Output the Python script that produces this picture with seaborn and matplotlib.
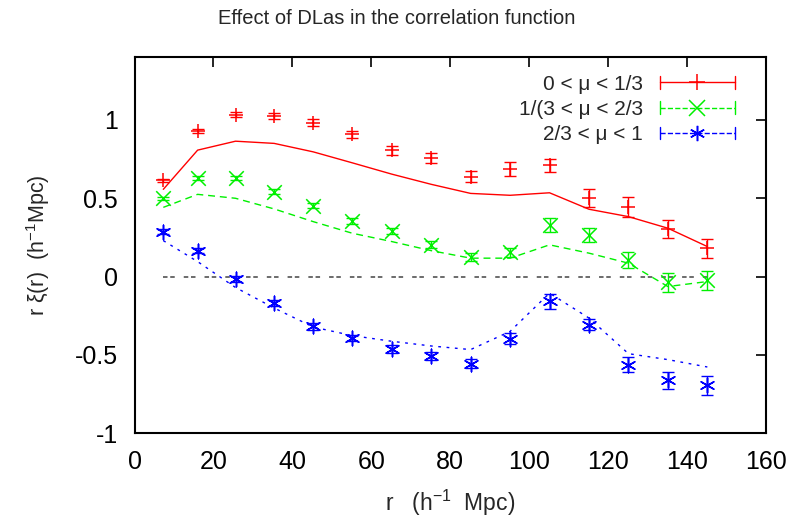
import matplotlib
matplotlib.use("Agg")
import matplotlib.pyplot as plt
from matplotlib.lines import Line2D
from matplotlib.legend_handler import HandlerBase
import seaborn as sns
import pandas as pd

# ---- data ----
r = [7.3, 16.0, 25.6, 35.4, 45.3, 55.2, 65.2, 75.2, 85.2, 95.2, 105.2, 115.2, 125.2, 135.2, 145.2]

red_data = [0.615, 0.929, 1.033, 1.024, 0.982, 0.906, 0.804, 0.755, 0.636, 0.687, 0.709, 0.499, 0.445, 0.301, 0.181]
red_err = [0.010, 0.012, 0.016, 0.021, 0.021, 0.021, 0.030, 0.034, 0.034, 0.045, 0.040, 0.058, 0.063, 0.058, 0.060]
red_model = [0.556, 0.806, 0.863, 0.849, 0.795, 0.725, 0.653, 0.588, 0.530, 0.518, 0.534, 0.429, 0.382, 0.308, 0.191]

green_data = [0.499, 0.630, 0.630, 0.541, 0.452, 0.356, 0.291, 0.202, 0.127, 0.155, 0.329, 0.265, 0.106, -0.038, -0.025]
green_err = [0.010, 0.012, 0.014, 0.016, 0.016, 0.018, 0.020, 0.022, 0.025, 0.030, 0.045, 0.045, 0.050, 0.058, 0.058]
green_model = [0.441, 0.524, 0.499, 0.431, 0.350, 0.276, 0.223, 0.165, 0.117, 0.117, 0.202, 0.149, 0.085, -0.064, -0.032]

blue_data = [0.286, 0.163, -0.015, -0.169, -0.318, -0.392, -0.462, -0.505, -0.557, -0.398, -0.159, -0.307, -0.562, -0.662, -0.695]
blue_err = [0.015, 0.016, 0.018, 0.020, 0.020, 0.022, 0.025, 0.025, 0.028, 0.035, 0.045, 0.035, 0.050, 0.056, 0.058]
blue_model = [0.229, 0.095, -0.070, -0.201, -0.322, -0.377, -0.413, -0.443, -0.466, -0.350, -0.106, -0.265, -0.492, -0.530, -0.577]

zero_line = [0.0] * len(r)

labels = ["0 < μ < 1/3", "1/(3 < μ < 2/3", "2/3 < μ < 1"]
xticks = [0, 20, 40, 60, 80, 100, 120, 140, 160]
yticks = [-1, -0.5, 0, 0.5, 1]
ytick_labels = ["-1", "-0.5", "0", "0.5", "1"]

title = "Effect of DLas in the correlation function"
xlabel = r"r   (h$^{-1}$  Mpc)"
ylabel = r"r ξ(r)  (h$^{-1}$Mpc)"

# ---- style ----
sns.set_theme(style="white")
plt.rcParams["font.family"] = ["Liberation Sans", "DejaVu Sans"]
plt.rcParams["mathtext.fontset"] = "custom"
plt.rcParams["mathtext.rm"] = "Liberation Sans"
plt.rcParams["mathtext.it"] = "Liberation Sans"

fig = plt.figure(figsize=(7.94, 5.20), dpi=100)
ax = fig.add_axes([0.1694, 0.1667, 0.9644 - 0.1694, 0.8904 - 0.1667])

asterisk = (6, 2, 0)
series = [
    dict(data=red_data, err=red_err, model=red_model, color="#ff0000",
         ls="-", marker="+", label=labels[0]),
    dict(data=green_data, err=green_err, model=green_model, color="#00f000",
         ls=(0, (5, 3.5)), marker="x", label=labels[1]),
    dict(data=blue_data, err=blue_err, model=blue_model, color="#0000ff",
         ls=(0, (2, 4)), marker=asterisk, label=labels[2]),
]

# zero reference line
df0 = pd.DataFrame({"r": r, "y": zero_line})
sns.lineplot(data=df0, x="r", y="y", ax=ax, color="#606060", lw=1.3,
             linestyle=(0, (2.5, 1.5, 2.5, 5)), zorder=1)

proxies = []
for s in series:
    dfm = pd.DataFrame({"r": r, "y": s["model"]})
    sns.lineplot(data=dfm, x="r", y="y", ax=ax, color=s["color"], lw=1.0,
                 linestyle=s["ls"], zorder=2)
    ax.errorbar(r, s["data"], yerr=s["err"], fmt="none", ecolor=s["color"],
                elinewidth=1.0, capsize=4, capthick=1.0, zorder=3)
    dfd = pd.DataFrame({"r": r, "y": s["data"]})
    sns.scatterplot(data=dfd, x="r", y="y", ax=ax, color=s["color"],
                    marker=s["marker"], s=110, linewidth=1.1, zorder=4)
    p = Line2D([], [], color=s["color"], linestyle=s["ls"], marker=s["marker"])
    proxies.append(p)


class CapHandler(HandlerBase):
    def create_artists(self, legend, orig_handle, xdescent, ydescent,
                       width, height, fontsize, trans):
        c = orig_handle.get_color()
        ls = orig_handle.get_linestyle()
        y = height / 2.0 - ydescent
        x0 = -xdescent
        x1 = width - xdescent
        h = 0.3 * fontsize
        line = Line2D([x0, x1], [y, y], color=c, lw=1.0)
        line.set_linestyle(ls)
        cap0 = Line2D([x0, x0], [y - h, y + h], color=c, lw=1.0)
        cap1 = Line2D([x1, x1], [y - h, y + h], color=c, lw=1.0)
        mk = Line2D([(x0 + x1) / 2.0], [y], color=c, marker=orig_handle.get_marker(),
                    markersize=11, markeredgewidth=1.1, linestyle="none")
        arts = [line, cap0, cap1, mk]
        for a in arts:
            a.set_transform(trans)
        return arts


handler = CapHandler()
leg = ax.legend(proxies, labels, loc="upper right", bbox_to_anchor=(0.979, 1.0),
                frameon=False, markerfirst=False, fontsize=15, handlelength=3.6,
                handletextpad=0.8, labelspacing=0.3, borderaxespad=0.45,
                handler_map={p: handler for p in proxies})

# ---- axes ----
ax.set_xlim(0, 160)
ax.set_ylim(-1, 1.4)
ax.set_xticks(xticks)
ax.set_xticklabels([str(t) for t in xticks])
ax.set_yticks(yticks)
ax.set_yticklabels(ytick_labels)
ax.tick_params(direction="in", length=7, width=1.2, top=True, right=True,
               labelsize=18, colors="black")
ax.tick_params(axis="x", pad=12)
ax.tick_params(axis="y", pad=12)
for sp in ax.spines.values():
    sp.set_linewidth(1.5)
    sp.set_color("black")
ax.set_xlabel(xlabel, fontsize=16.5, labelpad=10)
ax.set_ylabel(ylabel, fontsize=15.5, labelpad=16)
fig.text(0.5, 0.965, title, ha="center", va="center", fontsize=14.5)

fig.savefig("out.png", dpi=100)
